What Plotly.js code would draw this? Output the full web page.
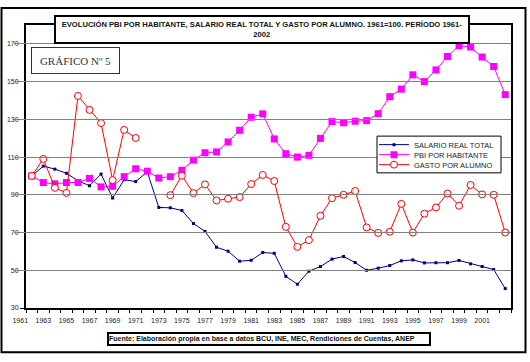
<!DOCTYPE html>
<html>
<head>
<meta charset="utf-8">
<script src="https://cdn.plot.ly/plotly-3.0.1.min.js"></script>
<style>html,body{margin:0;padding:0;background:#fff;}#chart{width:530px;height:362px;}</style>
</head>
<body>
<div id="chart"></div>
<script>
const years = [1961,1962,1963,1964,1965,1966,1967,1968,1969,1970,1971,1972,1973,1974,1975,1976,1977,1978,1979,1980,1981,1982,1983,1984,1985,1986,1987,1988,1989,1990,1991,1992,1993,1994,1995,1996,1997,1998,1999,2000,2001,2002];
const salarioReal = [100,105.2,103.6,101.4,97.5,94.8,101.0,88.3,98.0,97.0,102.2,83.3,83.1,81.7,74.8,70.6,62.2,60.1,54.8,55.3,59.4,59.0,46.8,42.6,49.5,52.0,55.9,57.3,54.1,50.0,51.1,52.5,55.0,55.5,53.9,54.0,54.0,55.2,53.4,52.0,50.4,40.3];
const pbiHabitante = [100,96.5,95.8,96.5,96.5,98.7,94.2,94.5,99.6,103.8,102.5,98.9,99.6,103.0,108.4,112.3,112.7,118.0,124.2,131.1,132.9,119.6,111.8,110.0,110.9,119.9,128.8,128.2,129.0,129.3,133.0,142.0,146.0,153.6,150.0,156.2,163.3,169.0,168.3,163.0,158.0,143.1];
const gastoAlumno = [100,109,93.7,91,142.4,135,128,97.8,124.4,120.1,null,null,89.8,100.1,90.9,95.5,87,87.9,88.8,95.7,100.5,97.3,73,62.4,66,78.9,88.2,90,92,72.7,69.8,70.4,85.2,70,80,83.3,90.7,84.2,95.2,90.2,90,70];
const tickYears = [1961,1963,1965,1967,1969,1971,1973,1975,1977,1979,1981,1983,1985,1987,1989,1991,1993,1995,1997,1999,2001];
const tickLabels = ['1961','1963','1965','1967','1969','1971','1973','1975','1977','1979','1981','1983','1985','1987','1989','1991','1993','1995','1997','1999','2001'];
const yTicks = [30,50,70,90,110,130,150,170];
const seriesNames = ['SALARIO REAL TOTAL','PBI POR HABITANTE','GASTO POR ALUMNO'];
const titleText = 'EVOLUCIÓN PBI POR HABITANTE, SALARIO REAL TOTAL Y GASTO POR ALUMNO. 1961=100. PERÍODO 1961-<br>2002';
const sourceText = 'Fuente: Elaboración propia en base a datos BCU, INE, MEC, Rendiciones de Cuentas, ANEP';
const boxLabel = 'GRÁFICO Nº 5';

const FONT = 'Liberation Sans, Arial, sans-serif';

// geometry of the plotting area (pixels)
const PAPER_L = 14, PLOT_L = 26, PLOT_R = 511, PLOT_T = 25, PLOT_B = 307.7, W = 530, H = 362;
const xRange = [years[0] - 0.5, years[years.length - 1] + 0.5];
const pxPerYear = (PLOT_R - PLOT_L) / (xRange[1] - xRange[0]);
// label axis: same scale, labels drawn one category to the left (as in the original)
const labelRange = [xRange[0] + 1 - (PLOT_L - PAPER_L) / pxPerYear, xRange[1] + 1];

const traces = [
  // carrier for the category-label axis (draws nothing)
  {x: tickYears, y: tickYears.map(() => null), xaxis: 'x2', yaxis: 'y', type: 'scatter', mode: 'markers',
   marker: {opacity: 0}, showlegend: false, hoverinfo: 'skip'},
  {x: years, y: salarioReal, name: seriesNames[0], type: 'scatter', mode: 'lines+markers',
   line: {color: '#000080', width: 1}, marker: {symbol: 'square', size: 3, color: '#000080'}, legend: 'legend'},
  {x: years, y: pbiHabitante, name: seriesNames[1], type: 'scatter', mode: 'lines+markers',
   line: {color: '#FF00FF', width: 1}, marker: {symbol: 'square', size: 7, color: '#FF00FF'}, legend: 'legend2'},
  {x: years, y: gastoAlumno, name: seriesNames[2], type: 'scatter', mode: 'lines+markers', connectgaps: false,
   line: {color: '#FF0000', width: 1}, marker: {symbol: 'circle', size: 7, color: '#FFFFFF', line: {color: '#FF0000', width: 1}}, legend: 'legend3'}
];

function px2x(p){ return (p - PAPER_L) / (PLOT_R - PAPER_L); }
function px2y(p){ return (PLOT_B - p) / (PLOT_B - PLOT_T); }

const legendCommon = {bgcolor: 'rgba(0,0,0,0)', borderwidth: 0, font: {family: FONT, size: 7.5, color: '#222'},
  xanchor: 'left', yanchor: 'middle', itemwidth: 30, x: px2x(374)};

const layout = {
  width: W, height: H,
  margin: {l: PAPER_L, r: W - PLOT_R, t: PLOT_T, b: H - PLOT_B, pad: 0},
  paper_bgcolor: '#FFFFFF', plot_bgcolor: 'rgba(0,0,0,0)',
  font: {family: FONT, size: 7, color: '#222'},
  xaxis: {domain: [px2x(PLOT_L), 1], anchor: 'y', range: xRange, showticklabels: false,
    ticks: '', showgrid: false, zeroline: false,
    showline: true, mirror: true, linecolor: '#000', linewidth: 2,
    minor: {tickmode: 'linear', tick0: xRange[0], dtick: 1, ticks: 'outside', ticklen: 3, tickcolor: '#000', tickwidth: 1, showgrid: false}},
  xaxis2: {domain: [0, 1], anchor: 'y', range: labelRange, tickmode: 'array', tickvals: tickYears, ticktext: tickLabels,
    ticks: '', showline: false, showgrid: false, zeroline: false, ticklabelstandoff: 7,
    tickfont: {family: FONT, size: 7, color: '#222'}},
  yaxis: {anchor: 'x', range: [30, 180], tickmode: 'array', tickvals: yTicks, ticks: 'outside', ticklen: 4, tickcolor: '#000',
    showgrid: true, gridcolor: '#808080', gridwidth: 1, zeroline: false,
    showline: true, mirror: true, linecolor: '#000', linewidth: 2,
    tickfont: {family: FONT, size: 7, color: '#222'}},
  showlegend: true,
  legend: Object.assign({}, legendCommon, {y: px2y(144.5)}),
  legend2: Object.assign({}, legendCommon, {y: px2y(154.5)}),
  legend3: Object.assign({}, legendCommon, {y: px2y(164.5)}),
  shapes: [
    {type: 'rect', xref: 'paper', yref: 'paper', x0: px2x(1.5), x1: px2x(525.5), y0: px2y(352), y1: px2y(8),
     line: {color: '#000', width: 2}, fillcolor: 'rgba(0,0,0,0)', layer: 'above'},
    {type: 'rect', xref: 'paper', yref: 'paper', x0: px2x(377), x1: px2x(501), y0: px2y(172.7), y1: px2y(136),
     line: {color: '#000', width: 1}, fillcolor: '#FFFFFF', layer: 'above'}
  ],
  annotations: [
    {text: '<b>' + titleText + '</b>', xref: 'paper', yref: 'paper', x: px2x(262), y: px2y(29.5),
     xanchor: 'center', yanchor: 'middle', showarrow: false, align: 'center',
     width: 412, height: 25, bgcolor: '#FFFFFF', bordercolor: '#000', borderwidth: 2, borderpad: 0,
     font: {family: FONT, size: 7.6, color: '#111'}},
    {text: boxLabel, xref: 'paper', yref: 'paper', x: px2x(75.5), y: px2y(60.5),
     xanchor: 'center', yanchor: 'middle', showarrow: false, align: 'center',
     width: 87, height: 25, bgcolor: '#FFFFFF', bordercolor: '#333', borderwidth: 1, borderpad: 0,
     font: {family: 'Liberation Serif, Times New Roman, serif', size: 11, color: '#333'}},
    {text: '<b>' + sourceText + '</b>', xref: 'paper', yref: 'paper', x: px2x(268.9), y: px2y(338.3),
     xanchor: 'center', yanchor: 'middle', showarrow: false, align: 'left',
     width: 320, height: 10, bgcolor: '#FFFFFF', bordercolor: '#000', borderwidth: 2, borderpad: 0,
     font: {family: FONT, size: 7, color: '#111'}}
  ]
};

Plotly.newPlot('chart', traces, layout, {displayModeBar: false, staticPlot: true});
</script>
</body>
</html>
